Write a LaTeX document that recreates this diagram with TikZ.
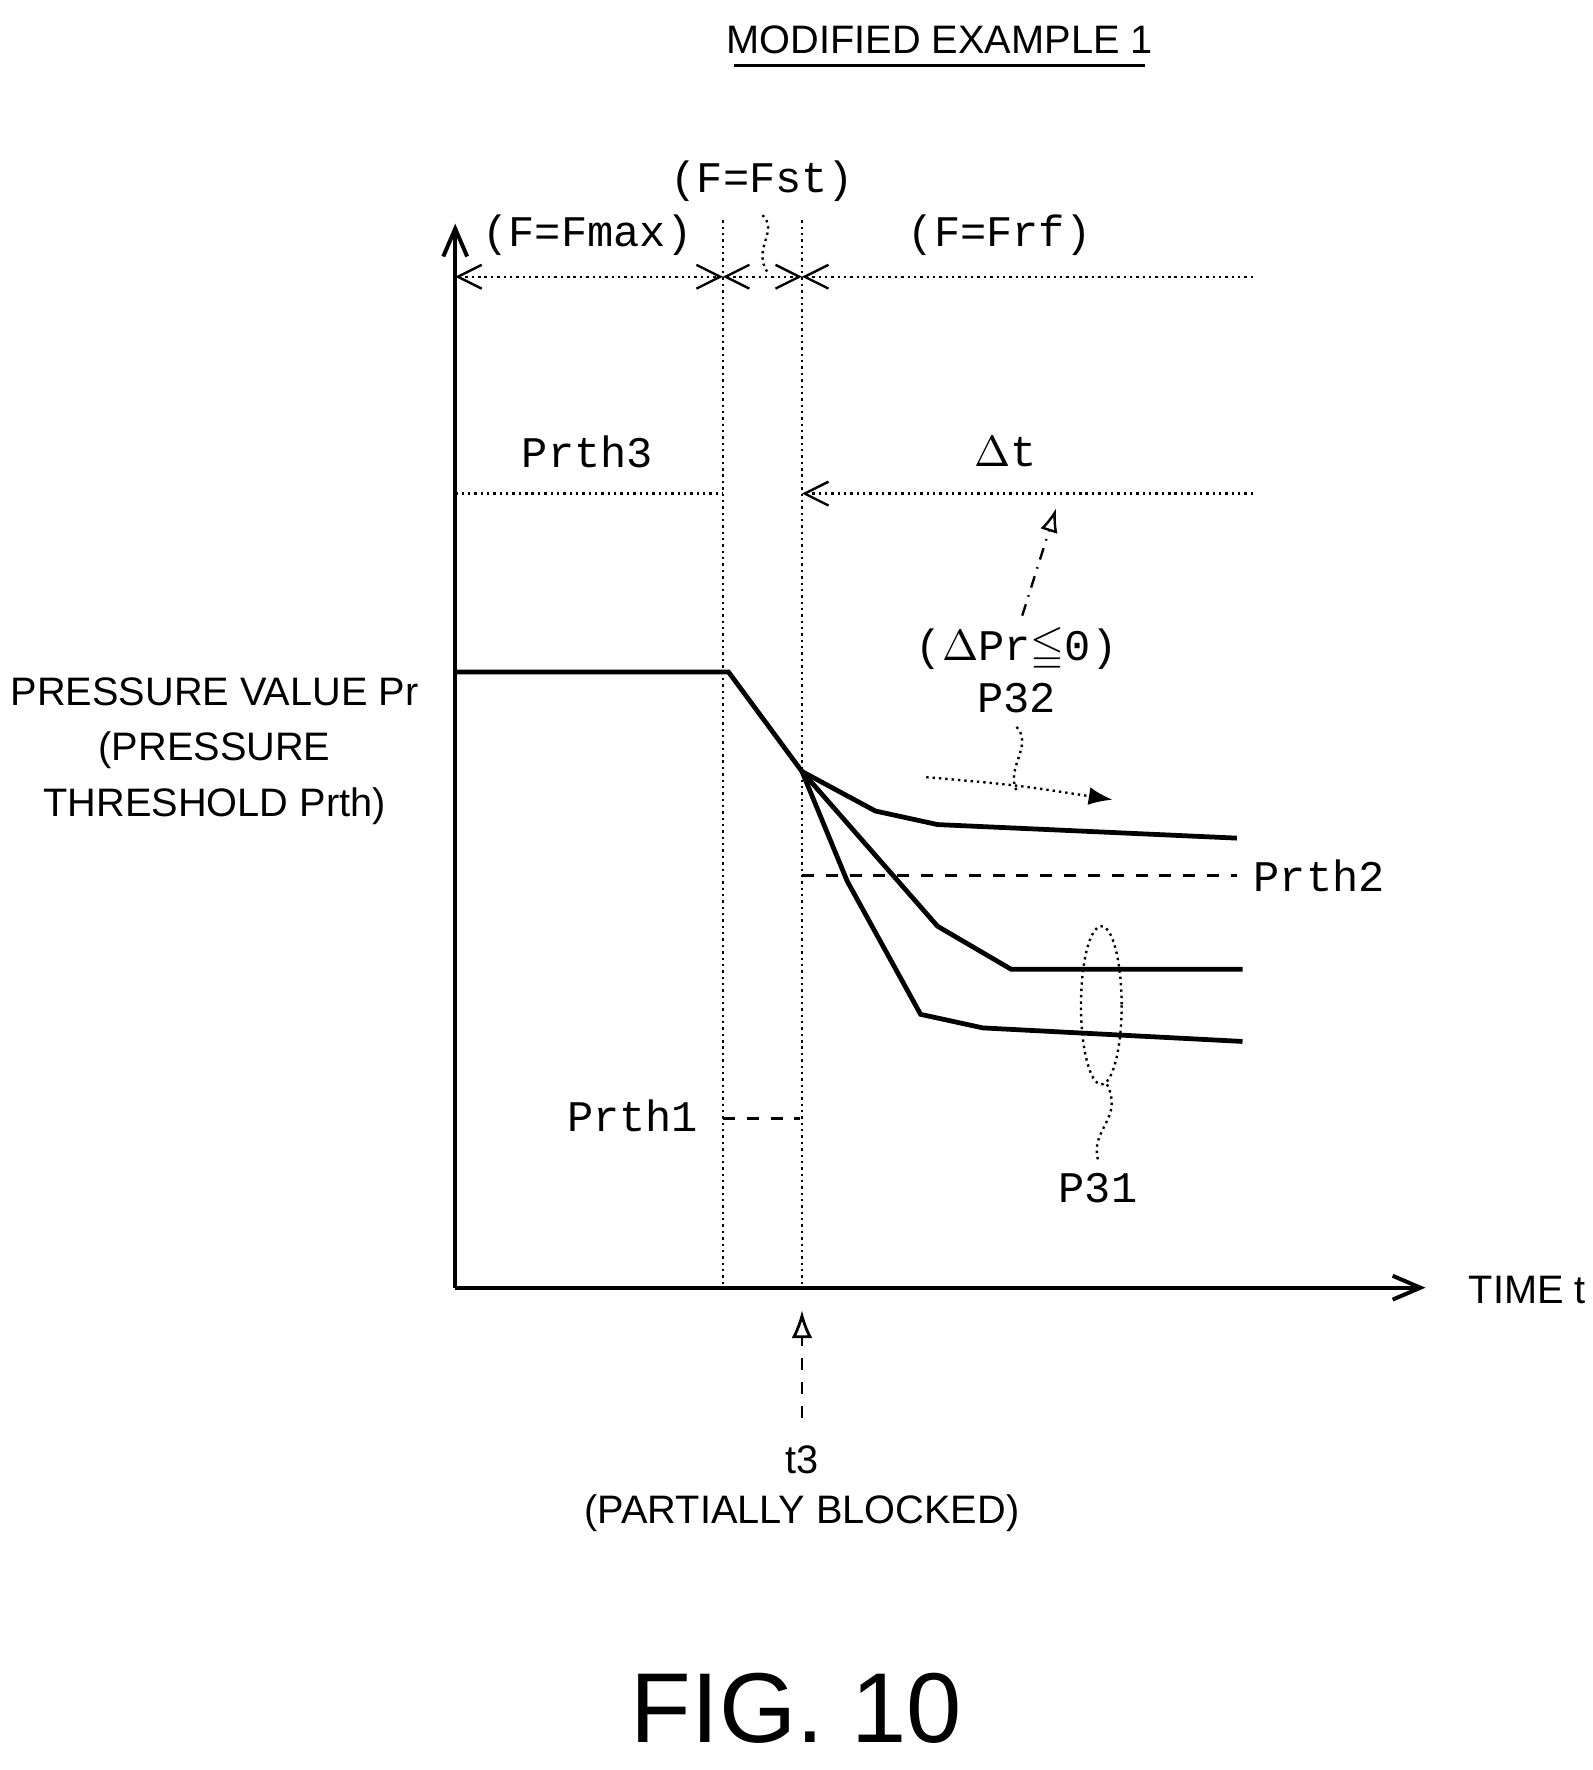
\documentclass[tikz,border=0pt]{standalone}
\usepackage{amssymb}
\usepackage{fontspec}
\setmainfont{Liberation Sans}
\newfontfamily\mono{Liberation Mono}
\usetikzlibrary{arrows.meta}
\begin{document}
\begin{tikzpicture}[x=0.01cm,y=-0.01cm,
  lab/.style={font=\fontsize{10}{12}\selectfont},
  mlab/.style={font=\mono\fontsize{11}{13}\selectfont},
  dot/.style={densely dotted,line width=0.6pt},
  dsh/.style={dashed,line width=0.7pt},
  tipo/.style={-{Straight Barb[length=7pt,width=6pt]}},
  curve/.style={line width=1.2pt}]
\useasboundingbox (0,0) rectangle (1410,1567);
% title
\node[lab] (title) at (832,35) {MODIFIED EXAMPLE 1};
\draw[line width=0.6pt] (650,58) -- (1014,58);
% axes
\coordinate (O) at (403,1140);
\coordinate (Ytop) at (403,198);
\coordinate (Xend) at (1262,1140);
\draw[line width=1pt,tipo] (O) -- (Ytop);
\draw[line width=1pt,tipo] (O) -- (Xend);
\node[lab,anchor=west] (timet) at (1288,1142) {TIME t};
% verticals
\coordinate (v1t) at (640,195); \coordinate (v1b) at (640,1140);
\coordinate (v2t) at (710,195); \coordinate (v2b) at (710,1140);
\draw[dot] (v1t) -- (v1b);
\draw[dot] (v2t) -- (v2b);
% phase arrows
\coordinate (a0) at (403,245); \coordinate (a1) at (640,245);
\coordinate (a2) at (710,245); \coordinate (a3) at (1110,245);
\draw[dot,{Straight Barb[length=6pt,width=6pt]}-{Straight Barb[length=6pt,width=6pt]}] (a0) -- (a1);
\draw[dot,{Straight Barb[length=6pt,width=6pt]}-{Straight Barb[length=6pt,width=6pt]}] (a1) -- (a2);
\draw[dot,{Straight Barb[length=6pt,width=6pt]}-] (a2) -- (a3);
\node[mlab] (fmax) at (520,208) {(F=Fmax)};
\node[mlab] (fst) at (675,160) {(F=Fst)};
\node[mlab] (frf) at (885,208) {(F=Frf)};
\draw[dot] (fst.south) .. controls (690,205) and (665,220) .. (680,242);
% Prth3 line
\node[mlab] (p3) at (520,400) {Prth3};
\coordinate (b0) at (403,437); \coordinate (b1) at (640,437);
\coordinate (b2) at (710,437); \coordinate (b3) at (1110,437);
\draw[dot] (b0) -- (b1);
\draw[dot,{Straight Barb[length=6pt,width=6pt]}-] (b2) -- (b3);
\node[mlab] (dt) at (890,400) {$\Delta$t};
% P32
\node[mlab] (dpr) at (900,575) {($\Delta$Pr$\leqq$0)};
\node[mlab] (p32) at (900,618) {P32};
\coordinate (dtarr) at (935,450);
\coordinate (dps) at (905,545);
\draw[dash dot,line width=0.6pt,-{Latex[open,length=6pt]}] (dps) -- (dtarr);
\coordinate (r0) at (820,688); \coordinate (r1) at (985,708);
\draw[dot,-{Latex[length=6pt]}] (r0) .. controls (900,695) .. (r1);
\draw[dot] (p32.south) .. controls (915,660) and (890,680) .. (900,700);
% pressure curves
\coordinate (c0) at (403,595); \coordinate (c1) at (645,595); \coordinate (c2) at (710,683);
\draw[curve] (c0) -- (c1) -- (c2);
\draw[curve] (c2) -- (775,718) -- (830,730) -- (1095,742);
\draw[curve] (c2) -- (830,820) -- (895,858) -- (1100,858);
\draw[curve] (c2) -- (750,780) -- (815,898) -- (870,910) -- (1100,922);
% Prth2
\coordinate (d0) at (710,775); \coordinate (d1) at (1095,775);
\draw[dsh] (d0) -- (d1);
\node[mlab] (p2) at (1168,775) {Prth2};
% P31
\draw[dot] (975,890) ellipse (18 and 70);
\node[mlab] (p31) at (972,1052) {P31};
\draw[dot] (980,960) .. controls (995,990) and (965,1000) .. (p31.north);
% Prth1
\node[mlab] (p1) at (560,988) {Prth1};
\coordinate (e0) at (640,990); \coordinate (e1) at (708,990);
\draw[dsh] (e0) -- (e1);
% left label
\node[lab,align=center] (ylab) at (190,665) {PRESSURE VALUE Pr\\[2pt](PRESSURE\\[2pt]THRESHOLD Prth)};
% t3
\coordinate (t3a) at (710,1255); \coordinate (t3b) at (710,1160);
\draw[dsh,-{Latex[open,length=7pt]}] (t3a) -- (t3b);
\node[lab] (t3) at (710,1292) {t3};
\node[lab] (pb) at (710,1340) {(PARTIALLY BLOCKED)};
% fig
\node[font=\fontsize{25}{30}\selectfont] (fig) at (705,1512) {FIG. 10};
\end{tikzpicture}
\end{document}
